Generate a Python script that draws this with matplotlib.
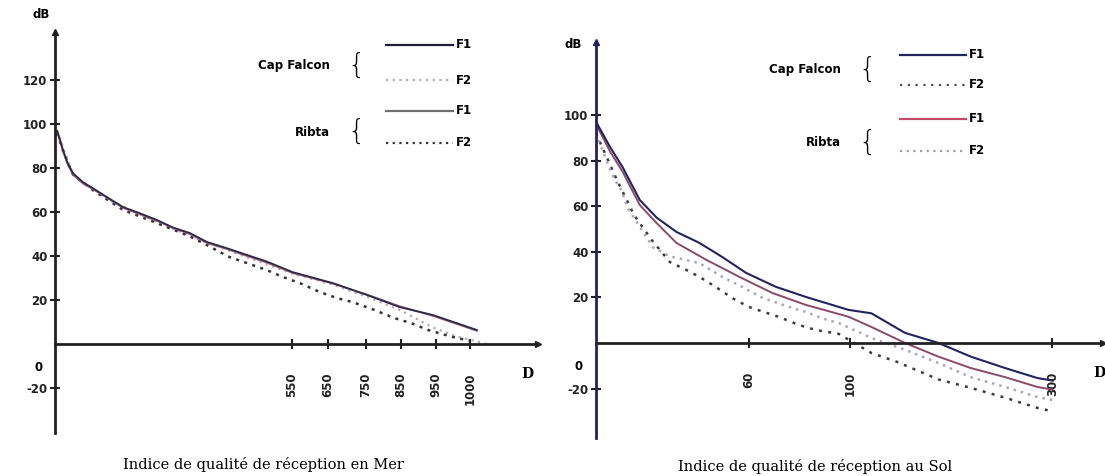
import numpy as np
import matplotlib
matplotlib.use("Agg")
import matplotlib.pyplot as plt
from matplotlib.lines import Line2D

# ---- data: left panel (Mer) ----
mer_d = [5, 12, 19, 30, 42, 65, 88, 121, 158, 197, 237, 274, 313, 353, 399, 446, 492, 552, 663, 753, 846, 941, 1010]
mer_cf_f1 = [97, 92.7, 88, 82, 77.7, 73.6, 70.9, 66.8, 62.3, 59.5, 56.4, 53, 50.5, 46.4, 43.6, 40.5, 37.5, 32.7, 27.7, 22.3, 16.8, 13.2, 6.4]
mer_rb_f1 = [96.5, 92, 87.5, 81.5, 77, 73, 70.5, 66.5, 62, 59, 56, 52.8, 50, 46, 43.2, 40, 37, 32.3, 27.5, 22.5, 17.2, 12.8, 6.0]

mer_cf_f2_d = [5, 42, 121, 237, 353, 446, 552, 663, 753, 846, 900, 941, 980, 1025]
mer_cf_f2 = [97, 77, 66, 55.5, 46, 39.5, 32, 27, 21.5, 15.5, 11, 7.5, 3.5, 0]

mer_rb_f2_d = [5, 20, 42, 88, 158, 237, 313, 353, 383, 406, 446, 492, 529, 572, 628, 674, 716, 774, 831, 879, 927, 964, 981, 1000]
mer_rb_f2 = [96, 87, 77, 70, 61, 55, 49, 45, 41.8, 39.5, 36.8, 33.6, 30.5, 27.7, 23.6, 20.9, 19, 15.5, 11.8, 9.5, 6.4, 4.1, 2.7, 1.5]

mer_ticks = [550, 650, 750, 850, 950, 1000]
mer_yticks = [-20, 20, 40, 60, 80, 100, 120]

# ---- data: right panel (Sol) ----
sol_cf_f1_d = [0, 5.5, 10.5, 17.2, 23.8, 31.6, 40.6, 49.6, 59, 70.7, 82.4, 99.2, 120.7, 154, 187, 219, 253, 285, 300]
sol_cf_f1 = [97, 86, 77, 62.7, 55, 48.7, 43.9, 37.7, 30.7, 24.6, 20.2, 14.5, 13, 4.4, 0, -6, -11, -15.4, -16.5]

sol_rb_f1_d = [0, 5.5, 10.5, 17.2, 23.8, 31.6, 43.4, 56.3, 69.1, 82.4, 99.2, 120.7, 154, 187, 219, 253, 285, 300]
sol_rb_f1 = [96, 84, 75, 60.5, 52.6, 43.9, 36.4, 29, 22, 16.7, 11.5, 7, 0, -6, -11, -15, -19.3, -20.5]

sol_rb_f2_d = [0, 5.5, 7.4, 10, 12.5, 17.2, 22.3, 29, 40.6, 49.6, 57.4, 65, 75.8, 82.4, 91, 95.3, 120.7, 154, 187, 219, 253, 285, 300]
sol_rb_f2 = [92, 76, 71.5, 67, 59, 51, 42, 38, 35, 29, 24.6, 20, 15.8, 13.6, 10, 8.8, 2.2, -3, -8.8, -15, -19.3, -23.7, -25]

sol_cf_f2_d = [0, 8, 15, 22, 29, 35.5, 40.6, 47, 53.5, 60, 71.9, 79.7, 86.3, 95.3, 120.7, 146, 187, 219, 253, 285, 300]
sol_cf_f2 = [92, 72, 56, 45, 35.5, 32, 29, 24.6, 19.7, 15.8, 11.4, 7.9, 5.7, 4, -4.4, -8.3, -16, -19.7, -24, -28.5, -30]

sol_ticks = [60, 100, 300]
sol_yticks = [-20, 20, 40, 60, 80, 100]

W, H = 1105, 476
fig = plt.figure(figsize=(W / 100, H / 100), dpi=100)
fig.patch.set_facecolor("white")

TICKFONT = dict(family="DejaVu Sans", weight="bold", size=8.5)


def rect(x0, y0, x1, y1):
    return [x0 / W, 1 - y1 / H, (x1 - x0) / W, (y1 - y0) / H]


def piecewise(d_pts, p_pts):
    # the original x axis is not linear, rebuild it from its tick spacing
    fwd = lambda x: np.interp(x, d_pts, p_pts)
    inv = lambda p: np.interp(p, p_pts, d_pts)
    return fwd, inv


def setup_axis(ax, ylim, xmax, ticks, yt, axcol):
    ax.set_ylim(*ylim)
    ax.set_xlim(0, xmax)
    ax.spines["top"].set_visible(False)
    ax.spines["right"].set_visible(False)
    ax.spines["bottom"].set_position(("data", 0))
    ax.spines["left"].set_linewidth(2)
    ax.spines["bottom"].set_linewidth(2)
    ax.spines["left"].set_color(axcol)
    ax.spines["bottom"].set_color("#222222")
    ax.set_facecolor("none")
    ax.set_yticks(yt)
    ax.set_yticklabels([str(t) for t in yt], fontdict=TICKFONT)
    ax.set_xticks(ticks)
    ax.set_xticklabels([str(t) for t in ticks], rotation=90, fontdict=TICKFONT)
    ax.tick_params(axis="y", direction="inout", length=7, width=1.5, pad=2, colors="#222222")
    ax.tick_params(axis="x", direction="inout", length=7, width=1.5, pad=17, colors="#222222")
    ax.plot(1, 0, ">", color="#222222", ms=5, transform=ax.get_yaxis_transform(), clip_on=False)
    ax.plot(0, 1, "^", color=axcol, ms=4, transform=ax.get_xaxis_transform(), clip_on=False)
    ax.text(-0.035, -10.5, "0", transform=ax.get_yaxis_transform(), ha="center", va="center", **TICKFONT)


def legend_block(x_lab, x_brace, x0, x1, rows, ys, labels):
    for (col, ls), y in zip(rows, ys):
        fig.add_artist(Line2D([x0 / W, x1 / W], [1 - y / H] * 2, color=col, ls=ls, lw=1.6))
        fig.text((x1 + 3) / W, 1 - y / H, "F1" if ls == "-" else "F2", ha="left", va="center",
                 family="DejaVu Sans", weight="bold", size=8.5)
    for name, yc in labels:
        fig.text(x_lab / W, 1 - yc / H, name, ha="right", va="center",
                 family="DejaVu Sans", weight="bold", size=8.5)
        fig.text(x_brace / W, 1 - yc / H, "{", ha="center", va="center",
                 family="DejaVu Sans", weight="light", size=20)


# ---------------- left panel ----------------
axL = fig.add_axes(rect(55, 32, 538, 433))
fL, iL = piecewise([0, 550, 650, 750, 850, 950, 1000, 1100], [0, 237, 273, 311, 346, 381, 415, 483])
axL.set_xscale("function", functions=(fL, iL))
setup_axis(axL, (-40.5, 142), 1100, mer_ticks, mer_yticks, "#222222")

axL.plot(mer_cf_f2_d, mer_cf_f2, color="#b8a8b0", ls=(0, (1, 2)), lw=1.6)
axL.plot(mer_rb_f2_d, mer_rb_f2, color="#333333", ls=(0, (1.2, 2.2)), lw=1.8)
axL.plot(mer_d, mer_rb_f1, color="#a06878", lw=1.3)
axL.plot(mer_d, mer_cf_f1, color="#2a2a48", lw=1.3)

fig.text(41 / W, 1 - 15 / H, "dB", ha="center", va="center", **TICKFONT)
fig.text(527 / W, 1 - 374 / H, "D", ha="center", va="center", family="DejaVu Serif", weight="bold", size=10)
fig.text(263 / W, 1 - 465 / H, "Indice de qualité de réception en Mer", ha="center", va="center",
         family="DejaVu Serif", size=10.5)

legend_block(330, 356, 386, 453,
             [("#1f1f3a", "-"), ("#b0b0b0", (0, (1, 2))), ("#707070", "-"), ("#333333", (0, (1, 2)))],
             [45, 80, 111, 143], [("Cap Falcon", 66), ("Ribta", 132)])

# ---------------- right panel ----------------
axR = fig.add_axes(rect(596, 42, 1103, 438))
fR, iR = piecewise([0, 100, 350], [0, 256, 510])
axR.set_xscale("function", functions=(fR, iR))
setup_axis(axR, (-41.7, 132), 350, sol_ticks, sol_yticks, "#23235f")

axR.plot(sol_cf_f2_d, sol_cf_f2, color="#3c3c44", ls=(0, (1.2, 2.5)), lw=1.8)
axR.plot(sol_rb_f2_d, sol_rb_f2, color="#a8a8b4", ls=(0, (1, 2)), lw=1.8)
axR.plot(sol_rb_f1_d, sol_rb_f1, color="#8a4a68", lw=1.4)
axR.plot(sol_cf_f1_d, sol_cf_f1, color="#23235f", lw=1.5)

fig.text(573 / W, 1 - 44 / H, "dB", ha="center", va="center", **TICKFONT)
fig.text(1099 / W, 1 - 373 / H, "D", ha="center", va="center", family="DejaVu Serif", weight="bold", size=10)
fig.text(815 / W, 1 - 467 / H, "Indice de qualité de réception au Sol", ha="center", va="center",
         family="DejaVu Serif", size=10.5)

legend_block(841, 867, 900, 966,
             [("#23235f", "-"), ("#505058", (0, (1, 2.5))), ("#c04a68", "-"), ("#a0a0a8", (0, (1, 2)))],
             [55, 85, 119, 151], [("Cap Falcon", 70), ("Ribta", 143)])

fig.savefig("out.png", dpi=100, facecolor="white")
